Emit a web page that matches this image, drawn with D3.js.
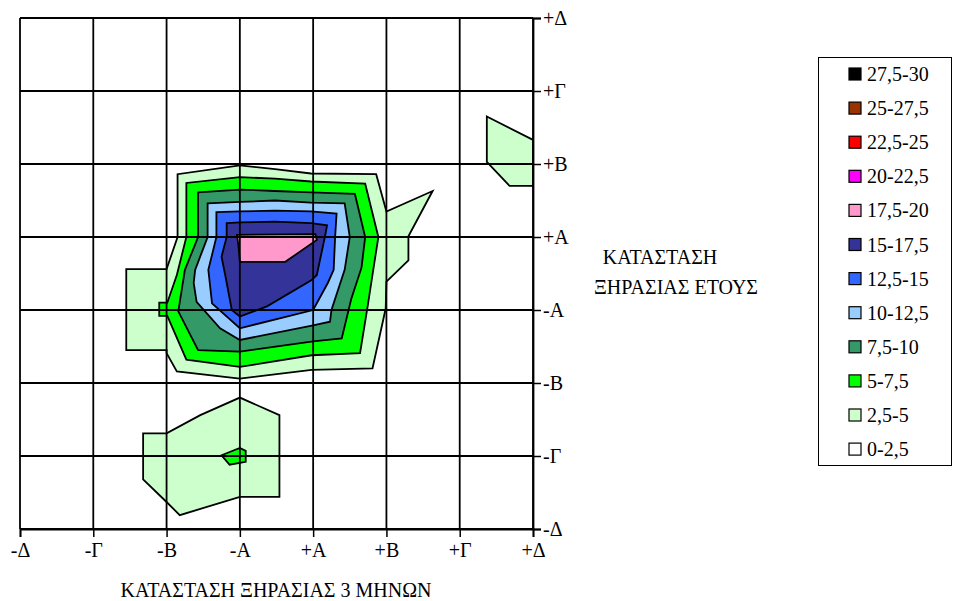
<!DOCTYPE html>
<html>
<head>
<meta charset="utf-8">
<script src="https://cdn.jsdelivr.net/npm/d3@7"></script>
<style>
  html, body { margin: 0; padding: 0; background: #ffffff; }
  svg text { font-family: "Liberation Serif", "Times New Roman", Times, Tinos, "DejaVu Serif", "Noto Serif", serif !important; fill: #000; }
</style>
</head>
<body>
<svg id="chart" width="953" height="601"></svg>
<script>
// ---- Data ----
const xTickLabels = ["-Δ", "-Γ", "-Β", "-Α", "+Α", "+Β", "+Γ", "+Δ"];
const yTickLabels = ["-Δ", "-Γ", "-Β", "-Α", "+Α", "+Β", "+Γ", "+Δ"];
const xTitle = "ΚΑΤΑΣΤΑΣΗ ΞΗΡΑΣΙΑΣ 3 ΜΗΝΩΝ";
const yTitleLines = ["ΚΑΤΑΣΤΑΣΗ", "ΞΗΡΑΣΙΑΣ ΕΤΟΥΣ"];

const bandLabels = ["0-2,5", "2,5-5", "5-7,5", "7,5-10", "10-12,5", "12,5-15",
                    "15-17,5", "17,5-20", "20-22,5", "22,5-25", "25-27,5", "27,5-30"];
const bandColors = ["#FFFFFF", "#CCFFCC", "#00FF00", "#339966", "#99CCFF", "#3366FF",
                    "#333399", "#FF99CC", "#FF00FF", "#FF0000", "#993300", "#000000"];

// Contour regions (value >= lower bound of band), in axis units (0 = -Δ ... 7 = +Δ)
const contour2_5 = [
  [[1.45,3.56],[2.0,3.56],[2.15,4.0],[2.15,4.86],[3.0,4.98],[3.48,4.93],[3.97,4.87],[4.86,4.86],
   [5.0,4.35],[5.63,4.63],[5.30,4.01],[5.30,3.68],[5.0,3.39],[4.99,3.02],[4.81,2.20],[3.98,2.18],
   [3.0,2.06],[2.14,2.16],[2.0,2.41],[2.0,2.45],[1.45,2.45]],
  [[1.68,1.31],[2.0,1.31],[2.46,1.56],[3.0,1.80],[3.54,1.56],[3.54,0.44],[3.0,0.44],[2.18,0.19],
   [2.0,0.37],[1.68,0.68]],
  [[6.37,5.65],[7.0,5.33],[7.0,4.70],[6.68,4.70],[6.37,5.03]]
];
const contour5 = [
  [[1.90,3.10],[2.01,3.10],[2.14,3.48],[2.27,4.0],[2.27,4.74],[3.0,4.82],[3.48,4.80],[3.97,4.76],
   [4.71,4.73],[4.89,4.0],[4.82,3.55],[4.75,3.09],[4.64,2.41],[3.98,2.38],[3.0,2.22],[2.27,2.32],
   [2.01,2.92],[1.90,2.92]],
  [[2.75,1.01],[3.0,1.11],[3.08,1.07],[3.08,0.92],[2.86,0.88]]
];
const contour7_5 = [
  [[2.43,4.61],[3.0,4.65],[3.48,4.63],[3.97,4.61],[4.57,4.59],[4.71,4.0],[4.66,3.58],[4.52,3.15],
   [4.39,2.61],[4.0,2.57],[3.0,2.43],[2.43,2.45],[2.16,2.98],[2.25,3.55],[2.43,4.0]]
];
const contour10 = [
  [[2.56,4.46],[3.0,4.48],[3.48,4.50],[3.97,4.47],[4.43,4.46],[4.50,4.0],[4.43,3.55],[4.25,3.0],
   [4.23,2.84],[4.0,2.79],[3.0,2.59],[2.73,2.75],[2.41,3.11],[2.37,3.37],[2.39,3.55],[2.56,4.0]]
];
const contour12_5 = [
  [[2.68,4.34],[3.0,4.35],[3.48,4.36],[3.97,4.35],[4.32,4.32],[4.30,4.0],[4.28,3.55],[4.20,3.37],
   [4.0,3.0],[3.0,2.75],[2.62,3.09],[2.57,3.55],[2.68,4.0]]
];
const contour15 = [
  [[2.82,4.19],[3.0,4.20],[3.48,4.21],[3.97,4.19],[4.19,4.16],[4.16,4.0],[4.05,3.48],[3.98,3.41],
   [3.37,3.05],[3.0,2.91],[2.89,3.0],[2.80,3.48],[2.75,3.73],[2.82,4.0]]
];
const contour17_5 = [
  [[2.96,4.03],[4.03,4.04],[4.05,3.96],[3.62,3.66],[3.0,3.66],[2.98,3.89]]
];

const contourLayers = [
  { band: 1, polys: contour2_5 },
  { band: 2, polys: contour5 },
  { band: 3, polys: contour7_5 },
  { band: 4, polys: contour10 },
  { band: 5, polys: contour12_5 },
  { band: 6, polys: contour15 },
  { band: 7, polys: contour17_5 }
];

// ---- Layout ----
const FONT = '"Liberation Serif", "Times New Roman", Times, Tinos, "DejaVu Serif", "Noto Serif", serif';
const svg = d3.select("#chart");
const plot = { left: 20, right: 533, top: 18, bottom: 529 };
const x = d3.scaleLinear().domain([0, 7]).range([plot.left, plot.right]);
const y = d3.scaleLinear().domain([0, 7]).range([plot.bottom, plot.top]);
const idx = d3.range(8);

svg.append("rect").attr("x", 0).attr("y", 0).attr("width", 953).attr("height", 601).attr("fill", "#fff");

svg.append("rect")
  .attr("x", plot.left).attr("y", plot.top)
  .attr("width", plot.right - plot.left).attr("height", plot.bottom - plot.top)
  .attr("fill", "#fff");

// contours
const line = d3.line().x(d => x(d[0])).y(d => y(d[1])).curve(d3.curveLinearClosed);
const cg = svg.append("g");
contourLayers.forEach(layer => {
  cg.selectAll(null).data(layer.polys).enter().append("path")
    .attr("d", line)
    .attr("fill", bandColors[layer.band])
    .attr("stroke", "#000")
    .attr("stroke-width", 1.8)
    .attr("stroke-linejoin", "miter");
});

// grid
const gg = svg.append("g").attr("stroke", "#000").attr("stroke-width", 1.8);
gg.selectAll(null).data(idx).enter().append("line")
  .attr("x1", d => x(d)).attr("x2", d => x(d))
  .attr("y1", plot.top).attr("y2", plot.bottom);
gg.selectAll(null).data(idx).enter().append("line")
  .attr("y1", d => y(d)).attr("y2", d => y(d))
  .attr("x1", plot.left).attr("x2", plot.right);

// axes
const xAxis = d3.axisBottom(x).tickValues(idx).tickFormat(d => xTickLabels[d]).tickSize(8).tickPadding(6);
const xg = svg.append("g").attr("transform", `translate(0,${plot.bottom})`).call(xAxis);
const yAxis = d3.axisRight(y).tickValues(idx).tickFormat(d => yTickLabels[d]).tickSize(8).tickPadding(2);
const yg = svg.append("g").attr("transform", `translate(${plot.right},0)`).call(yAxis);
[xg, yg].forEach(g => {
  g.attr("font-family", FONT).attr("font-size", 20);
  g.select(".domain").attr("stroke", "#000").attr("stroke-width", 1.8);
  g.selectAll(".tick line").attr("stroke", "#000").attr("stroke-width", 1.5);
  g.selectAll(".tick text").attr("font-size", 20).attr("font-family", FONT).attr("fill", "#000");
});

// titles
svg.append("text").attr("x", 276).attr("y", 597).attr("text-anchor", "middle")
  .attr("font-family", FONT).attr("font-size", 20).text(xTitle);
svg.append("text").attr("x", 660).attr("y", 264).attr("text-anchor", "middle")
  .attr("font-family", FONT).attr("font-size", 20).text(yTitleLines[0]);
svg.append("text").attr("x", 676).attr("y", 294).attr("text-anchor", "middle")
  .attr("font-family", FONT).attr("font-size", 20).text(yTitleLines[1]);

// legend
const legend = svg.append("g");
legend.append("rect").attr("x", 818.5).attr("y", 57.5).attr("width", 133).attr("height", 408)
  .attr("fill", "#fff").attr("stroke", "#000").attr("stroke-width", 1);
const legendOrder = d3.range(bandLabels.length).reverse();
const li = legend.selectAll(null).data(legendOrder).enter().append("g")
  .attr("transform", (d, i) => `translate(0,${74 + i * 34.1})`);
li.append("rect").attr("x", 849).attr("y", -6).attr("width", 12).attr("height", 12)
  .attr("fill", d => bandColors[d]).attr("stroke", "#000").attr("stroke-width", 1.2);
li.append("text").attr("x", 867).attr("y", 7).attr("font-family", FONT).attr("font-size", 20).text(d => bandLabels[d]);
</script>
</body>
</html>
